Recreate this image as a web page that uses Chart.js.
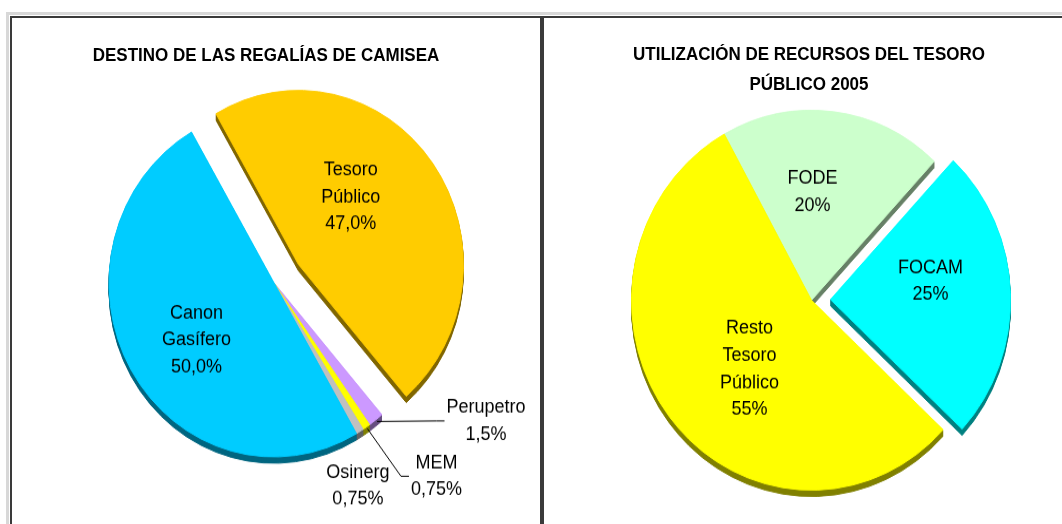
<!DOCTYPE html>
<html lang="es">
<head>
<meta charset="UTF-8">
<title>Regalías de Camisea</title>
<script src="https://cdn.jsdelivr.net/npm/chart.js@4.4.1/dist/chart.umd.min.js"></script>
<style>
  body { margin: 0; width: 1062px; height: 524px; overflow: hidden; background: #fff; position: relative;
         font-family: 'Liberation Sans', Arial, sans-serif; }
  .grid-h { position: absolute; left: 6px; top: 12px; width: 1056px; height: 3px; background: #d8d8d8; }
  .grid-v { position: absolute; left: 6px; top: 12px; width: 3px; height: 512px; background: #d8d8d8; }
  .panel { position: absolute; top: 16px; height: 508px; border-top: 2px solid #3a3a3a; background: #fff; overflow: hidden; }
  #leftPanel { left: 10px; width: 528px; border-left: 2px solid #3a3a3a; border-right: 2px solid #3a3a3a; }
  #rightPanel { left: 542px; width: 518px; border-left: 2px solid #3a3a3a; }
  .panel h2 { position: absolute; top: 23.5px; left: 0; margin: 0; font-size: 17px; line-height: 27px;
              font-weight: bold; text-align: center; color: #000; white-space: nowrap;
              transform: scaleY(1.08); transform-origin: 50% 50%; }
  #leftPanel h2 { width: 508px; }
  #rightPanel h2 { width: 530px; }
  /* the original picture is slightly taller than wide */
  canvas { position: absolute; left: 0; top: 0; transform: scaleY(1.055); transform-origin: 0 0; }
</style>
</head>
<body>
<div class="grid-h"></div>
<div class="grid-v"></div>

<div class="panel" id="leftPanel">
  <canvas id="camiseaChart" width="528" height="506"></canvas>
  <h2>DESTINO DE LAS REGALÍAS DE CAMISEA</h2>
</div>

<div class="panel" id="rightPanel">
  <canvas id="tesoroChart" width="518" height="506"></canvas>
  <h2>UTILIZACIÓN DE RECURSOS DEL TESORO<br>PÚBLICO 2005</h2>
</div>

<script>
// Data
const camiseaLabels = ['Tesoro Público', 'Perupetro', 'MEM', 'Osinerg', 'Canon Gasífero'];
const camiseaValues = [47.0, 1.5, 0.75, 0.75, 50.0];

const tesoroLabels = ['FODE', 'FOCAM', 'Resto Tesoro Público'];
const tesoroValues = [20, 25, 55];

// Colours (face / side)
const camiseaColors = ['#ffcc00', '#cc99ff', '#ffff00', '#c0c0c0', '#00ccff'];
const camiseaSides = ['#806600', '#664d80', '#808000', '#606060', '#006680'];
const tesoroColors = ['#ccffcc', '#00ffff', '#ffff00'];
const tesoroSides = ['#668066', '#008080', '#808000'];

const LINE_H = 25.6;

function pct(v, minDec) {
    let dec = minDec;
    while (dec < 2 && Math.abs(v * 10 ** dec - Math.round(v * 10 ** dec)) > 1e-9) dec++;
    return v.toFixed(dec).replace('.', ',') + '%';
}

function explodeShift(arc, dist) {
    const mid = (arc.startAngle + arc.endAngle) / 2;
    return { x: Math.cos(mid) * (dist || 0), y: Math.sin(mid) * (dist || 0) };
}

// Excel-like 3D pie: side walls, exploded slices and slice labels
const pie3d = {
    id: 'pie3d',
    beforeDatasetDraw(chart, args, opts) {
        const ctx = chart.ctx;
        const arcs = args.meta.data;

        for (let d = opts.depth; d > 0; d--) {
            arcs.forEach((arc, i) => {
                const s = explodeShift(arc, opts.explode[i]);
                const face = arc.options;
                arc.options = Object.assign({}, face, {
                    backgroundColor: opts.sides[i],
                    borderColor: opts.sides[i]
                });
                ctx.save();
                ctx.translate(s.x, s.y + d);
                arc.draw(ctx);
                ctx.restore();
                arc.options = face;
            });
        }

        arcs.forEach((arc, i) => {
            const s = explodeShift(arc, opts.explode[i]);
            ctx.save();
            ctx.translate(s.x, s.y);
            arc.draw(ctx);
            ctx.restore();
        });
        return false;
    },
    afterDatasetsDraw(chart, args, opts) {
        const ctx = chart.ctx;
        const arcs = chart.getDatasetMeta(0).data;
        const labels = chart.data.labels;
        const values = chart.data.datasets[0].data;

        ctx.save();
        ctx.font = '18px "Liberation Sans", Arial, sans-serif';
        ctx.fillStyle = '#000';
        ctx.strokeStyle = '#000';
        ctx.lineWidth = 1;
        ctx.textAlign = 'center';
        ctx.textBaseline = 'middle';

        arcs.forEach((arc, i) => {
            const lines = labels[i].split(' ').concat(pct(values[i], opts.minDecimals));
            const mid = (arc.startAngle + arc.endAngle) / 2;
            const s = explodeShift(arc, opts.explode[i]);
            const call = opts.callouts[i];
            let cx, cy;

            if (call) {
                const ax = arc.x + s.x + Math.cos(mid) * (arc.outerRadius + 2);
                const ay = arc.y + s.y + Math.sin(mid) * (arc.outerRadius + 2);
                cx = ax + call.dx;
                cy = ay + call.dy;
                if (call.line) {
                    const w = Math.max(...lines.map(l => ctx.measureText(l).width));
                    const left = cx - w / 2;
                    ctx.beginPath();
                    ctx.moveTo(ax, ay);
                    ctx.lineTo(left - 10, cy);
                    ctx.lineTo(left - 2, cy);
                    ctx.stroke();
                }
            } else {
                const n = opts.nudge[i] || [0, 0];
                cx = arc.x + s.x + Math.cos(mid) * arc.outerRadius * 0.5 + n[0];
                cy = arc.y + s.y + Math.sin(mid) * arc.outerRadius * 0.5 + n[1];
            }

            lines.forEach((l, k) => {
                ctx.fillText(l, cx, cy + (k - (lines.length - 1) / 2) * LINE_H);
            });
        });
        ctx.restore();
    }
};

// Destino de las regalías de Camisea
new Chart(document.getElementById('camiseaChart'), {
    type: 'pie',
    data: {
        labels: camiseaLabels,
        datasets: [{
            data: camiseaValues,
            backgroundColor: camiseaColors,
            borderColor: camiseaColors,
            borderWidth: 1
        }]
    },
    options: {
        responsive: false,
        animation: false,
        events: [],
        rotation: -30,
        radius: 165,
        layout: { padding: { left: 0, right: 4, top: 40, bottom: 44 } },
        plugins: {
            legend: { display: false },
            tooltip: { enabled: false },
            pie3d: {
                depth: 6,
                sides: camiseaSides,
                explode: [30, 0, 0, 0, 0],
                minDecimals: 1,
                nudge: [[-15, -16], null, null, null, [-6, 13]],
                callouts: [null, { dx: 109, dy: -0.5, line: true }, { dx: 69, dy: 45, line: true },
                           { dx: -3, dy: 50, line: false }, null]
            }
        }
    },
    plugins: [pie3d]
});

// Utilización de recursos del Tesoro Público 2005
new Chart(document.getElementById('tesoroChart'), {
    type: 'pie',
    data: {
        labels: tesoroLabels,
        datasets: [{
            data: tesoroValues,
            backgroundColor: tesoroColors,
            borderColor: tesoroColors,
            borderWidth: 1
        }]
    },
    options: {
        responsive: false,
        animation: false,
        events: [],
        rotation: -29,
        radius: 180,
        layout: { padding: { left: 17, right: 0, top: 50, bottom: 21 } },
        plugins: {
            legend: { display: false },
            tooltip: { enabled: false },
            pie3d: {
                depth: 6,
                sides: tesoroSides,
                explode: [0, 19, 0],
                minDecimals: 0,
                nudge: [[-10, -13], [10, -14], [9, 10]],
                callouts: [null, null, null]
            }
        }
    },
    plugins: [pie3d]
});
</script>
</body>
</html>
